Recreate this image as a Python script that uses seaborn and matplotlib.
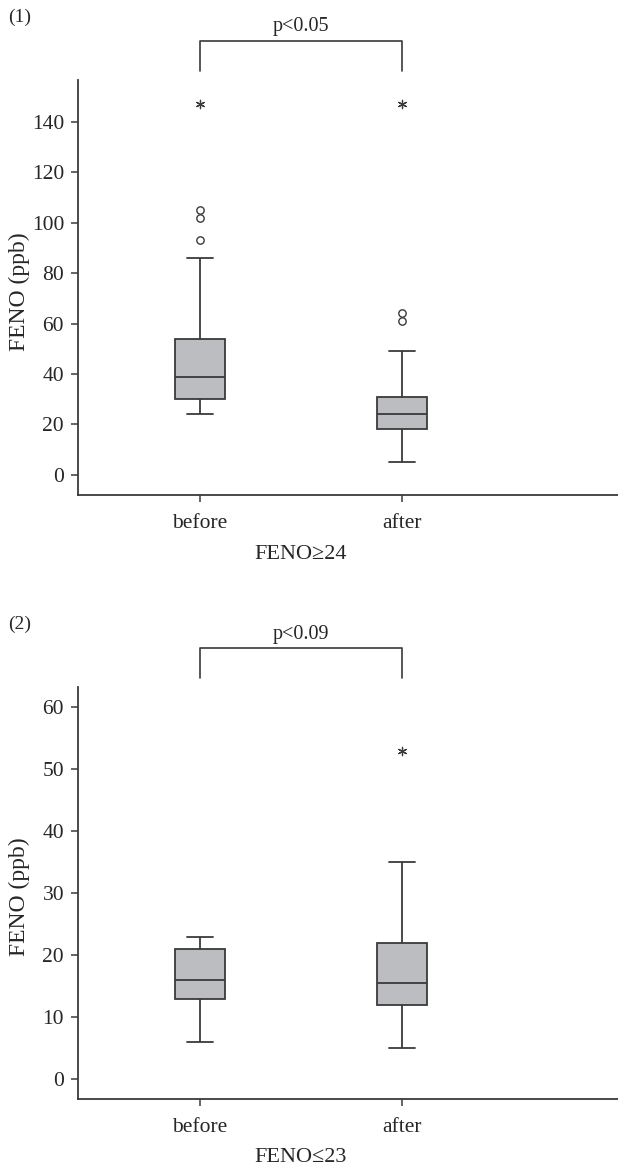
import numpy as np
import pandas as pd
import matplotlib
matplotlib.use("Agg")
import matplotlib.pyplot as plt
import seaborn as sns

# ---------------- data ----------------
groups = ["before", "after"]

# Panel (1): FENO >= 24 group
p1_before = [24, 25, 26, 27, 28, 29, 30, 31, 33, 35, 36, 38, 39,
             41, 44, 47, 50, 52, 54, 65, 86, 93, 102, 105, 147]
p1_after = [5, 8, 11, 13, 15, 17, 18, 19, 20, 21, 22, 23, 24,
            25, 26, 28, 29, 30, 31, 35, 40, 49, 61, 64, 147]

# Panel (2): FENO <= 23 group
p2_before = [6, 9, 11, 12, 13, 14, 15, 15, 16, 17, 18, 20, 21, 21, 22, 22, 23]
p2_after = [5, 8, 10, 11, 12, 13, 14, 15, 15.5, 17, 19, 20, 22, 25, 29, 35, 53]

panel_tags = ["(1)", "(2)"]
x_titles = ["FENO≥24", "FENO≤23"]
p_texts = ["p<0.05", "p<0.09"]
y_title = "FENO (ppb)"
yticks_1 = [0, 20, 40, 60, 80, 100, 120, 140]
yticks_2 = [0, 10, 20, 30, 40, 50, 60]

# ---------------- style ----------------
sns.set_theme(style="ticks")
plt.rcParams["font.family"] = ["Liberation Serif", "DejaVu Serif"]

INK = "#3a3a3a"
TXT = "#262626"
FILL = "#bcbdc0"

fig = plt.figure(figsize=(6.18, 11.69), dpi=100)
W, H = 618.0, 1169.0


def ax_at(left, top, right, bottom):
    return fig.add_axes([left / W, 1 - bottom / H, (right - left) / W, (bottom - top) / H])


panels = [
    dict(ax=ax_at(78, 80, 618, 495), data=(p1_before, p1_after), ylim=(-8, 156.6),
         yticks=yticks_1, br_low=160, br_high=172, p_y=174, tag_y=17),
    dict(ax=ax_at(78, 686.7, 618, 1099), data=(p2_before, p2_after), ylim=(-3.2, 63.3),
         yticks=yticks_2, br_low=64.7, br_high=69.5, p_y=70.2, tag_y=624),
]

for i, pn in enumerate(panels):
    ax = pn["ax"]
    rows = []
    for g, vals in zip(groups, pn["data"]):
        arr = np.asarray(vals, dtype=float)
        q1, q3 = np.percentile(arr, [25, 75])
        iqr = q3 - q1
        for v in arr:
            if v > q3 + 3 * iqr or v < q1 - 3 * iqr:
                kind = "extreme"
            elif v > q3 + 1.5 * iqr or v < q1 - 1.5 * iqr:
                kind = "mild"
            else:
                kind = "inner"
            rows.append((g, v, kind))
    df = pd.DataFrame(rows, columns=["group", "value", "kind"])

    sns.boxplot(data=df, x="group", y="value", order=groups, width=0.25,
                color=FILL, saturation=1, linecolor=INK, linewidth=1.3,
                showfliers=False, ax=ax)

    mild = df[df["kind"] == "mild"]
    if len(mild):
        sns.stripplot(data=mild, x="group", y="value", order=groups, jitter=False,
                      marker="o", size=5.3, color="white", edgecolor=INK,
                      linewidth=1.0, ax=ax, zorder=5)
    ext = df[df["kind"] == "extreme"]
    if len(ext):
        sns.stripplot(data=ext, x="group", y="value", order=groups, jitter=False,
                      marker=(6, 2, 0), size=6, color=INK, linewidth=0.9,
                      ax=ax, zorder=5)

    ax.set_xlim(-0.604, 2.07)
    ax.set_ylim(*pn["ylim"])
    ax.set_yticks(pn["yticks"])
    sns.despine(ax=ax)
    for s in ("left", "bottom"):
        ax.spines[s].set_color(INK)
        ax.spines[s].set_linewidth(1.3)
    ax.tick_params(axis="y", length=5, width=1.1, color=INK, labelsize=15.5,
                   pad=5, labelcolor=TXT)
    ax.tick_params(axis="x", length=5, width=1.1, color=INK, labelsize=15.5,
                   pad=9, labelcolor=TXT)

    ax.set_ylabel(y_title, fontsize=17, color=TXT)
    ax.yaxis.set_label_coords(-0.089, 0.49)
    ax.set_xlabel(x_titles[i], fontsize=16, color=TXT)
    ax.xaxis.set_label_coords(0.413, -0.12)

    # significance bracket
    ax.plot([0, 0, 1, 1], [pn["br_low"], pn["br_high"], pn["br_high"], pn["br_low"]],
            color=INK, lw=1.2, clip_on=False)
    ax.text(0.5, pn["p_y"], p_texts[i], ha="center", va="bottom", fontsize=14.5,
            color=TXT, clip_on=False)

    fig.text(8 / W, 1 - pn["tag_y"] / H, panel_tags[i], ha="left", va="center",
             fontsize=14, color=TXT)

fig.savefig("out.png", dpi=100)
